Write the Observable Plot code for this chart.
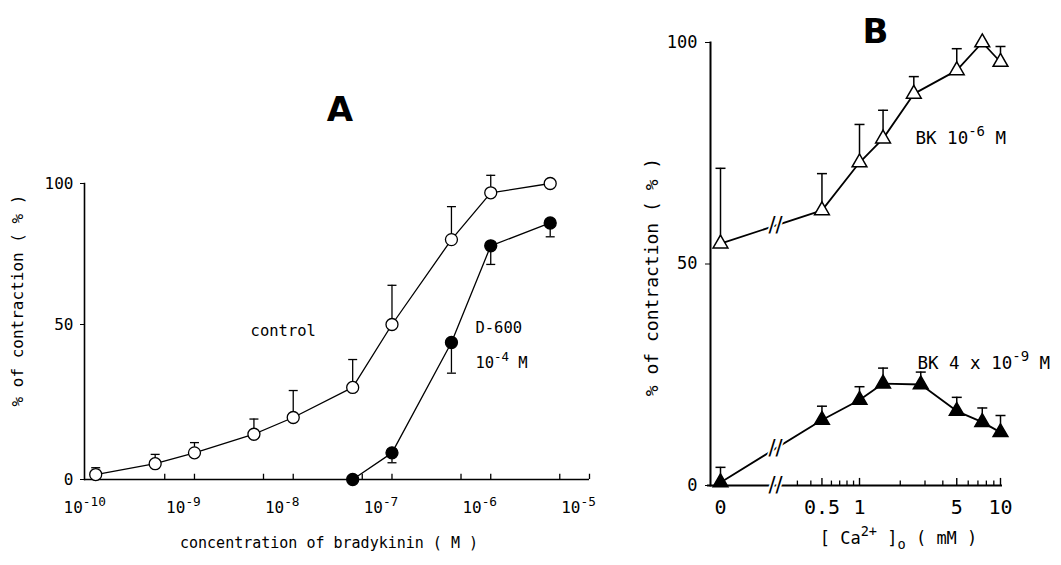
<!DOCTYPE html>
<html>
<head>
<meta charset="utf-8">
<script src="https://cdn.jsdelivr.net/npm/d3@7"></script>
<script src="https://cdn.jsdelivr.net/npm/@observablehq/plot@0.6"></script>
<style>
  html, body { margin: 0; padding: 0; background: #fff; }
  #wrap { position: relative; width: 1061px; height: 565px; overflow: hidden; background: #fff; }
  #wrap > svg { position: absolute; top: 0; overflow: visible; }
</style>
</head>
<body>
<div id="wrap"></div>
<script>
// ---------------- Panel A: concentration of bradykinin (M) ----------------
const concControl = [1e-10, 4e-10, 1e-9, 4e-9, 1e-8, 4e-8, 1e-7, 4e-7, 1e-6, 4e-6];
const controlMean = [1.6, 5.1, 8.6, 14.6, 20.0, 29.7, 50.0, 80.1, 96.7, 100];
const controlSEM  = [2.2, 3.0, 3.3, 4.9, 8.7, 9.0, 13.9, 11.7, 6.2, 0];
const concD600 = [4e-8, 1e-7, 4e-7, 1e-6, 4e-6];
const d600Mean = [0, 8.6, 44.2, 77.9, 86.0];
const d600SEM  = [0, 3.2, 9.9, 6.6, 4.9];
const xTicksA = [1e-10, 1e-9, 1e-8, 1e-7, 1e-6, 1e-5];
const xMinorA = [5e-10, 5e-9, 5e-8, 5e-7, 5e-6];
const yTicks = [0, 50, 100];

// ---------------- Panel B: [Ca2+]o (mM) ----------------
const caBK6 = [0, 0.5, 1, 1.5, 2.5, 5, 7.5, 10];
const bk6Mean = [54.6, 62.1, 72.9, 78.3, 88.4, 93.7, 100, 95.6];
const bk6SEM  = [17.0, 8.3, 8.6, 6.4, 3.9, 4.9, 0, 3.5];
const caBK4 = [0, 0.5, 1, 1.5, 2.8, 5, 7.5, 10];
const bk4Mean = [0.7, 14.8, 19.3, 23.0, 22.8, 16.8, 14.3, 12.0];
const bk4SEM  = [3.4, 3.1, 3.0, 3.5, 2.8, 3.1, 3.2, 3.8];
const xTicksB = [0, 0.5, 1, 5, 10];
const xMajorB = [0.5, 1, 5, 10];
const xMinorB = [0.2, 0.3, 0.4, 0.6, 0.7, 0.8, 0.9, 2, 3, 4, 6, 7, 8, 9];
const breakAt = 0.176; // axis break position on the Ca2+ axis

// ---------------- helpers ----------------
const FONT = "'DejaVu Sans Mono', 'Liberation Mono', monospace";
const BOLD = "'DejaVu Sans', 'Liberation Sans', sans-serif";
const rows = (xs, ms, es) => xs.map((c, i) => ({c, m: ms[i], e: es[i]}));
const ctrl = rows(concControl, controlMean, controlSEM);
const d600 = rows(concD600, d600Mean, d600SEM);
const bk6 = rows(caBK6, bk6Mean, bk6SEM);
const bk4 = rows(caBK4, bk4Mean, bk4SEM);
const cap = (w) => ({draw(ctx) { ctx.moveTo(-w, 0); ctx.lineTo(w, 0); }});
const symC = 0.13;
const tBreak = Math.log1p(breakAt / symC) / Math.log1p(0.5 / symC);
const breaks = [
  {y: 0},
  {y: bk6Mean[0] + tBreak * (bk6Mean[1] - bk6Mean[0])},
  {y: bk4Mean[0] + tBreak * (bk4Mean[1] - bk4Mean[0])}
];

// ---------------- Panel A ----------------
const plotA = Plot.plot({
  width: 620, height: 565,
  marginLeft: 84, marginRight: 31, marginTop: 183, marginBottom: 86,
  style: {fontFamily: FONT, background: "transparent", color: "black"},
  x: {type: "log", domain: [7.7e-11, 1e-5]},
  y: {type: "linear", domain: [0, 50, 100], range: [479, 324, 183]},
  marks: [
    Plot.frame({anchor: "left", stroke: "black", strokeWidth: 1.6}),
    Plot.ruleY([0], {stroke: "black", strokeWidth: 1.6}),
    Plot.ruleX([...xTicksA, ...xMinorA], {y1: 0, y2: 1.7, stroke: "black", strokeWidth: 1.3}),
    Plot.axisY({ticks: yTicks, tickSize: 4, tickPadding: 7, fontSize: 16, label: null}),
    Plot.axisX({ticks: xTicksA, tickSize: 0, tickPadding: 22, fontSize: 16, label: null, dx: -11,
      tickFormat: d => `10^{${Math.round(Math.log10(d))}}`}),
    // error bars
    Plot.ruleX(ctrl.filter(d => d.e > 0), {x: "c", y1: "m", y2: d => d.m + d.e, stroke: "black", strokeWidth: 1.3}),
    Plot.dot(ctrl.filter(d => d.e > 0), {x: "c", y: d => d.m + d.e, symbol: cap(4.5), r: 1, fill: "none", stroke: "black", strokeWidth: 1.3}),
    Plot.ruleX(d600.filter(d => d.e > 0), {x: "c", y1: "m", y2: d => d.m - d.e, stroke: "black", strokeWidth: 1.3}),
    Plot.dot(d600.filter(d => d.e > 0), {x: "c", y: d => d.m - d.e, symbol: cap(4.5), r: 1, fill: "none", stroke: "black", strokeWidth: 1.3}),
    // curves
    Plot.line(ctrl, {x: "c", y: "m", stroke: "black", strokeWidth: 1.3}),
    Plot.line(d600, {x: "c", y: "m", stroke: "black", strokeWidth: 1.3}),
    Plot.dot(ctrl, {x: "c", y: "m", r: 6, fill: "white", stroke: "black", strokeWidth: 1.3}),
    Plot.dot(d600, {x: "c", y: "m", r: 6, fill: "black", stroke: "black", strokeWidth: 1.3}),
    // annotations
    Plot.text(["control"], {x: 3.7e-9, y: 48, text: d => d, textAnchor: "start", fontSize: 15.5}),
    Plot.text(["D-600"], {x: 7.0e-7, y: 48.7, text: d => d, textAnchor: "start", fontSize: 15.5}),
    Plot.text(["10^{-4} M"], {x: 7.0e-7, y: 37.5, text: d => d, textAnchor: "start", fontSize: 15.5}),
    // axis labels and title
    Plot.text(["% of contraction ( % )"], {frameAnchor: "left", text: d => d, rotate: -90, textAnchor: "middle", dx: -67, dy: -31, fontSize: 16}),
    Plot.text(["concentration of bradykinin ( M )"], {frameAnchor: "bottom", text: d => d, textAnchor: "middle", dx: -8, dy: 68, fontSize: 15}),
    Plot.text(["A"], {frameAnchor: "top", text: d => d, dx: 3, dy: -87, fontSize: 34, fontWeight: "bold", fontFamily: BOLD})
  ]
});

// ---------------- Panel B ----------------
const plotB = Plot.plot({
  width: 441, height: 565,
  marginLeft: 90, marginRight: 61, marginTop: 42, marginBottom: 80, insetLeft: 10,
  style: {fontFamily: FONT, background: "transparent", color: "black"},
  x: {type: "symlog", constant: symC, domain: [0, 10]},
  y: {type: "linear", domain: [0, 100]},
  marks: [
    Plot.frame({anchor: "left", stroke: "black", strokeWidth: 2}),
    Plot.ruleY([0], {stroke: "black", strokeWidth: 1.8, insetLeft: -3, insetRight: -2}),
    Plot.ruleX(xMinorB, {y1: 0, y2: 1.0, stroke: "black", strokeWidth: 1.3}),
    Plot.ruleX(xMajorB, {y1: 0, y2: 1.6, stroke: "black", strokeWidth: 1.4}),
    Plot.axisY({ticks: yTicks, tickSize: 5, tickPadding: 8, fontSize: 17, label: null}),
    Plot.axisX({ticks: xTicksB, tickSize: 0, tickPadding: 14, fontSize: 20, label: null, tickFormat: d => String(d)}),
    // error bars
    Plot.ruleX(bk6.filter(d => d.e > 0), {x: "c", y1: "m", y2: d => d.m + d.e, stroke: "black", strokeWidth: 1.5}),
    Plot.dot(bk6.filter(d => d.e > 0), {x: "c", y: d => d.m + d.e, symbol: cap(5), r: 1, fill: "none", stroke: "black", strokeWidth: 1.5}),
    Plot.ruleX(bk4.filter(d => d.e > 0), {x: "c", y1: "m", y2: d => d.m + d.e, stroke: "black", strokeWidth: 1.5}),
    Plot.dot(bk4.filter(d => d.e > 0), {x: "c", y: d => d.m + d.e, symbol: cap(5), r: 1, fill: "none", stroke: "black", strokeWidth: 1.5}),
    // curves
    Plot.line(bk6, {x: "c", y: "m", stroke: "black", strokeWidth: 1.8}),
    Plot.line(bk4, {x: "c", y: "m", stroke: "black", strokeWidth: 1.8}),
    // axis / curve break marks
    Plot.text(breaks, {x: () => breakAt, y: "y", text: () => "//", fontFamily: BOLD, fontSize: 21,
      fill: "black", stroke: "white", strokeWidth: 3.5}),
    Plot.dot(bk6, {x: "c", y: "m", symbol: "triangle", r: 5.5, fill: "white", stroke: "black", strokeWidth: 1.5}),
    Plot.dot(bk4, {x: "c", y: "m", symbol: "triangle", r: 5.5, fill: "black", stroke: "black", strokeWidth: 1.5}),
    // annotations
    Plot.text(["BK 10^{-6} M"], {x: 2.57, y: 78.3, text: d => d, textAnchor: "start", fontSize: 17.5}),
    Plot.text(["BK 4 x 10^{-9} M"], {x: 2.65, y: 27.5, text: d => d, textAnchor: "start", fontSize: 17.5}),
    // axis labels and title
    Plot.text(["% of contraction ( % )"], {frameAnchor: "left", text: d => d, rotate: -90, textAnchor: "middle", dx: -58, dy: 13, fontSize: 18}),
    Plot.text(["[ Ca^{2+} ]_{o} ( mM )"], {frameAnchor: "bottom", text: d => d, textAnchor: "middle", dx: 43, dy: 58, fontSize: 17}),
    Plot.text(["B"], {frameAnchor: "top", text: d => d, dx: 20, dy: -24, fontSize: 34, fontWeight: "bold", fontFamily: BOLD})
  ]
});

const wrap = document.getElementById("wrap");
plotA.style.left = "0px";
plotB.style.left = "620px";
wrap.appendChild(plotA);
wrap.appendChild(plotB);

// superscript / subscript markup -> tspans
function richify(svg) {
  const NS = "http://www.w3.org/2000/svg";
  const SCALE = 0.8;
  svg.querySelectorAll("text").forEach(t => {
    const targets = t.querySelector("tspan") ? Array.from(t.querySelectorAll("tspan")) : [t];
    targets.forEach(el => {
      if (el.children.length) return;
      const s = el.textContent;
      if (!/[\^_]\{/.test(s)) return;
      el.textContent = "";
      let off = 0;
      for (const part of s.split(/(\^\{[^}]*\}|_\{[^}]*\})/)) {
        if (!part) continue;
        const ts = document.createElementNS(NS, "tspan");
        if (part.startsWith("^{") || part.startsWith("_{")) {
          const target = part[0] === "^" ? -0.45 : 0.32;
          ts.textContent = part.slice(2, -1);
          ts.style.fontSize = (SCALE * 100) + "%";
          ts.setAttribute("dy", ((target - off) / SCALE).toFixed(3) + "em");
          off = target;
        } else {
          ts.textContent = part;
          if (off !== 0) ts.setAttribute("dy", (-off).toFixed(3) + "em");
          off = 0;
        }
        el.appendChild(ts);
      }
    });
  });
}
richify(plotA);
richify(plotB);
</script>
</body>
</html>
